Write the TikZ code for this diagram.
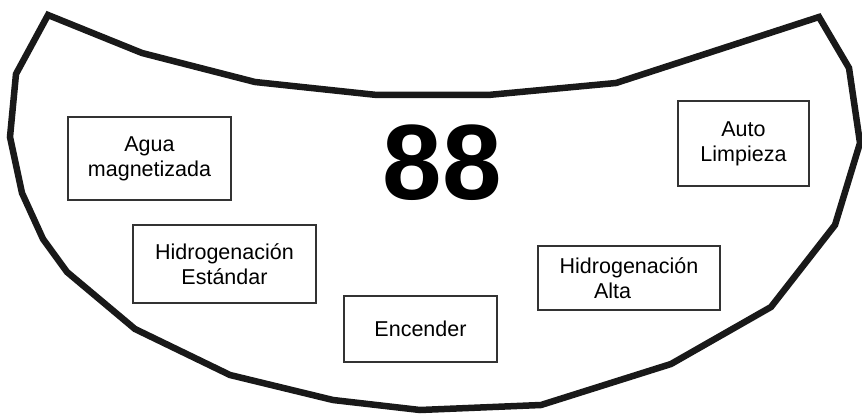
\documentclass[tikz,border=0pt]{standalone}
\usepackage{fontspec}
\setmainfont{Liberation Sans}
\colorlet{rimx}{black!90}
\colorlet{boxx}{black!80}
\tikzset{
    rim/.style={rimx,line width=6.5pt},
    btn/.style={draw=boxx,line width=1.2pt,inner sep=0pt,align=center,
        font=\fontsize{21.5}{25}\selectfont},
    digits/.style={anchor=base,inner sep=0pt,font=\fontsize{107}{110}\selectfont\bfseries}
}
\begin{document}
\begin{tikzpicture}[x=1pt,y=-1pt]
            \useasboundingbox (0,0) rectangle (862,414);
            \draw [rim] (48,15)
                -- (142,53) -- (255,82) -- (377,95) -- (488,95)
                -- (616,83) -- (819,17) -- (849,68) -- (860,143)
                -- (835,225) -- (771,307) -- (671,364) -- (541,405)
                -- (420,410) -- (333,400) -- (230,375) -- (135,329)
                -- (67,272) -- (43,239) -- (22,193) -- (10,137)
                -- (16,74) -- cycle;
            \node [digits] (disp) at (442.5,200) {88};
            \node [btn,minimum width=163pt,minimum height=83pt] (agua) at (149.5,158.5) {Agua\\magnetizada};
            \node [btn,minimum width=131pt,minimum height=85pt] (auto) at (743.5,143.5) {Auto\\Limpieza};
            \node [btn,minimum width=183pt,minimum height=78pt] (std) at (224.5,264) {Hidrogenación\\Estándar};
            \node [btn,minimum width=153pt,minimum height=66pt] (power) at (420.5,329) {Encender};
            \node [btn,minimum width=182pt,minimum height=64pt,align=left] (alta) at (629,278) {Hidrogenación\\\hspace*{1.6em}Alta};
        \end{tikzpicture}
\end{document}
